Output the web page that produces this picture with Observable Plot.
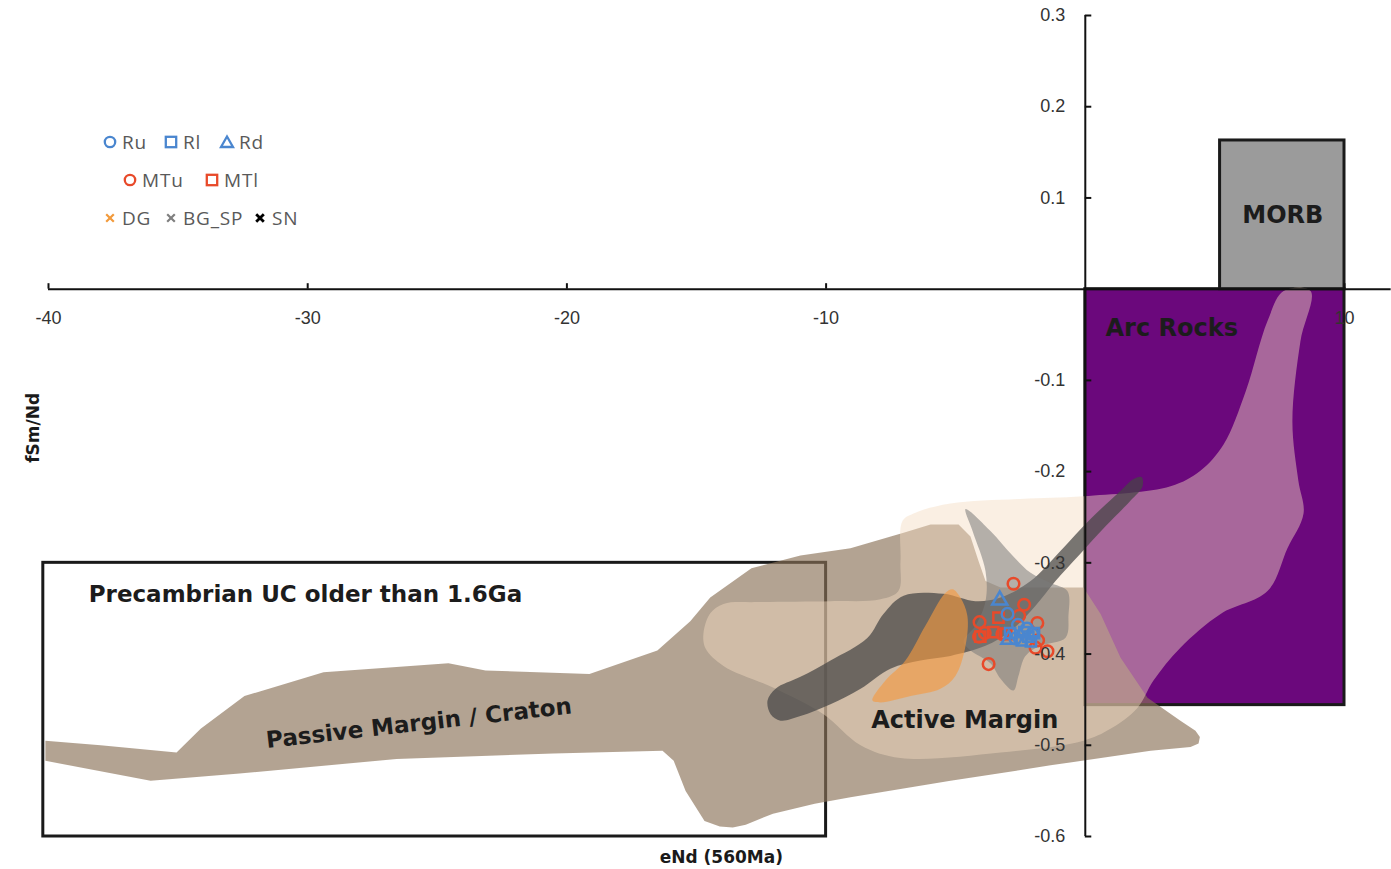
<!DOCTYPE html>
<html>
<head>
<meta charset="utf-8">
<script src="https://cdn.jsdelivr.net/npm/d3@7"></script>
<script src="https://cdn.jsdelivr.net/npm/@observablehq/plot@0.6"></script>
<style>
  html, body { margin: 0; padding: 0; background: #fff; }
  #chart { position: relative; width: 1391px; height: 869px; }
  #legend { position: absolute; left: 0; top: 0; }
</style>
</head>
<body>
<div id="chart"></div>
<script>
// ---- Samples: eNd (560 Ma) and fSm/Nd ----
const Ru  = [[-3.00, -0.356], [-2.60, -0.368], [-2.25, -0.372], [-2.05, -0.378], [-2.70, -0.383]];
const Rl  = [[-2.20, -0.381], [-2.45, -0.385], [-1.98, -0.377], [-2.90, -0.377], [-2.10, -0.386], [-2.35, -0.376]];
const Rd  = [[-3.30, -0.341], [-2.95, -0.384]];
const MTu = [[-2.77, -0.323], [-2.36, -0.346], [-4.08, -0.365], [-4.10, -0.381], [-3.73, -0.411], [-1.85, -0.366],
             [-1.82, -0.385], [-1.92, -0.393], [-1.46, -0.397], [-2.55, -0.358], [-3.88, -0.377], [-3.20, -0.378]];
const MTl = [[-4.05, -0.381], [-3.55, -0.376], [-3.35, -0.360], [-3.05, -0.378]];

// ---- Reference fields ----
// boxes as [x1, x2, y1, y2]
const morbBox        = [5.2, 10, 0, 0.163];
const arcRocksBox    = [0, 10, -0.456, 0];
const precambrianBox = [-40.2, -10, -0.6, -0.3];

const passiveMarginCraton = [
  [-40.12, -0.495], [-37.99, -0.500], [-35.06, -0.508], [-34.13, -0.482], [-32.44, -0.446], [-29.39, -0.420],
  [-24.57, -0.410], [-23.14, -0.418], [-19.13, -0.422], [-16.51, -0.396], [-15.24, -0.364], [-14.47, -0.338],
  [-12.88, -0.306], [-10.99, -0.292], [-9.06, -0.284], [-7.01, -0.267], [-5.97, -0.258], [-4.89, -0.258],
  [-4.43, -0.271], [-4.12, -0.298], [-3.85, -0.320], [-3.27, -0.327], [-0.07, -0.327], [0.59, -0.356],
  [1.36, -0.404], [2.40, -0.448], [3.67, -0.473], [4.25, -0.484], [4.42, -0.491], [4.37, -0.498],
  [4.06, -0.502], [2.52, -0.506], [-1.34, -0.522], [-5.20, -0.539], [-9.06, -0.557], [-10.44, -0.564],
  [-12.05, -0.575], [-13.10, -0.587], [-13.60, -0.590], [-14.10, -0.589], [-14.69, -0.583], [-15.42, -0.550],
  [-15.88, -0.517], [-16.31, -0.506], [-20.52, -0.509], [-26.57, -0.515], [-32.63, -0.531], [-36.06, -0.539],
  [-40.12, -0.517]
];

const activeMargin = [
  [-14.73, -0.377], [-14.46, -0.355], [-13.96, -0.345], [-12.65, -0.343], [-9.83, -0.342], [-7.90, -0.340],
  [-7.21, -0.331], [-7.13, -0.298], [-7.05, -0.254], [-6.55, -0.245], [-5.20, -0.235], [-2.50, -0.230],
  [-0.07, -0.227], [3.29, -0.216], [4.44, -0.199], [5.34, -0.170], [6.19, -0.112], [7.03, -0.035],
  [7.65, -0.002], [8.69, -0.002], [8.30, -0.057], [7.99, -0.145], [8.22, -0.210], [8.42, -0.246],
  [7.80, -0.284], [7.03, -0.331], [5.22, -0.356], [3.67, -0.393], [2.63, -0.429], [2.01, -0.459],
  [0.97, -0.482], [-0.07, -0.495], [-3.27, -0.508], [-7.13, -0.514], [-8.67, -0.500], [-10.10, -0.466],
  [-12.03, -0.437], [-13.96, -0.413], [-14.65, -0.394]
];

const snField = [
  [-12.14, -0.466], [-12.26, -0.451], [-11.95, -0.438], [-10.99, -0.425], [-9.83, -0.407], [-8.40, -0.382],
  [-7.79, -0.356], [-7.01, -0.336], [-5.47, -0.334], [-4.24, -0.342], [-3.27, -0.338], [-2.11, -0.320],
  [-0.96, -0.287], [0.20, -0.252], [1.36, -0.221], [1.86, -0.208], [2.17, -0.206], [2.21, -0.216],
  [1.74, -0.232], [0.78, -0.260], [-0.19, -0.290], [-1.15, -0.320], [-1.92, -0.347], [-2.89, -0.375],
  [-3.85, -0.391], [-5.20, -0.402], [-6.36, -0.407], [-7.52, -0.416], [-8.67, -0.438], [-9.83, -0.455],
  [-10.99, -0.468], [-11.76, -0.473]
];

const bgspField = [
  [-4.62, -0.241], [-3.66, -0.265], [-2.81, -0.292], [-2.11, -0.311], [-1.34, -0.322], [-0.69, -0.331],
  [-0.65, -0.358], [-0.76, -0.382], [-1.73, -0.391], [-2.31, -0.402], [-2.58, -0.424], [-2.77, -0.440],
  [-3.27, -0.427], [-3.66, -0.410], [-4.43, -0.396], [-4.70, -0.386], [-4.24, -0.369], [-3.85, -0.342],
  [-3.85, -0.309], [-4.35, -0.265]
];

const dgField = [
  [-8.21, -0.451], [-7.71, -0.429], [-6.94, -0.407], [-6.17, -0.369], [-5.40, -0.333], [-5.12, -0.329],
  [-4.82, -0.338], [-4.55, -0.358], [-4.62, -0.391], [-5.01, -0.424], [-5.59, -0.438], [-6.74, -0.446],
  [-7.90, -0.453]
];

// ---- Axis ticks ----
const xTicks = [-40, -30, -20, -10, 10];
const yTicks = [0.3, 0.2, 0.1, -0.1, -0.2, -0.3, -0.4, -0.5, -0.6];

// ---- Field labels ----
const fieldLabels = ["MORB", "Arc Rocks", "Precambrian UC older than 1.6Ga", "Passive Margin / Craton", "Active Margin"];

// ---------------------------------------------------------------------------
const BLUE = "#4a86cf", RED = "#e84a2a", ORANGE = "#f29a3c", GREY = "#7f7f7f";
const BOLD = "DejaVu Sans";
const REG = "Liberation Sans";

const bx = b => ({x1: b[0], x2: b[1], y1: b[2], y2: b[3]});
const field = (pts, fill, opacity, curve = "catmull-rom-closed") =>
  Plot.line(pts, {x: d => d[0], y: d => d[1], curve, fill, fillOpacity: opacity, stroke: "none"});
const samples = (pts, symbol, stroke, r) =>
  Plot.dot(pts, {x: d => d[0], y: d => d[1], symbol, stroke, r, strokeWidth: 2.5, fill: "none"});

// label placement (data units) keyed by label text
const labelPlace = {
  "MORB": {x: 7.62, y: 0.081, anchor: "middle", size: 24, rotate: 0},
  "Arc Rocks": {x: 0.78, y: -0.043, anchor: "start", size: 24, rotate: 0},
  "Precambrian UC older than 1.6Ga": {x: -38.45, y: -0.335, anchor: "start", size: 23, rotate: 0},
  "Passive Margin / Craton": {x: -25.71, y: -0.476, anchor: "middle", size: 23, rotate: -6.5},
  "Active Margin": {x: -4.65, y: -0.473, anchor: "middle", size: 24, rotate: 0}
};

const chart = Plot.plot({
  width: 1391,
  height: 869,
  marginLeft: 48,
  marginRight: 47,
  marginTop: 15,
  marginBottom: 33,
  x: {domain: [-40, 10], axis: null},
  y: {domain: [-0.6, 0.3], axis: null},
  style: {background: "#fff", overflow: "visible", fontFamily: REG},
  marks: [
    // frames of the reference fields
    Plot.rect([precambrianBox], {...bx(precambrianBox), fill: "none", stroke: "#1a1a1a", strokeWidth: 3}),
    Plot.rect([arcRocksBox], {...bx(arcRocksBox), fill: "#6b087c", stroke: "#1a1a1a", strokeWidth: 3}),
    Plot.rect([morbBox], {...bx(morbBox), fill: "#9b9b9b", stroke: "#1a1a1a", strokeWidth: 3}),

    // compositional envelopes
    field(passiveMarginCraton, "#8a7157", 0.65, "linear-closed"),
    field(activeMargin, "#f4dcc2", 0.45),
    field(snField, "#454545", 0.72),
    field(bgspField, "#7a7a7a", 0.55),
    field(dgField, "#f6993f", 0.62),

    // samples
    samples(MTu, "circle", RED, 5.8),
    samples(MTl, "square", RED, 5.8),
    samples(Ru, "circle", BLUE, 5.8),
    samples(Rl, "square", BLUE, 5.8),
    samples(Rd, "triangle", BLUE, 5.6),

    // axes crossing at the origin
    Plot.ruleY([0], {x1: -40, x2: 11.8, stroke: "#111", strokeWidth: 2}),
    Plot.ruleX([0], {y1: -0.6, y2: 0.3, stroke: "#111", strokeWidth: 2}),
    Plot.ruleX(xTicks, {x: d => d, y1: 0, y2: 0.006, stroke: "#111", strokeWidth: 2}),
    Plot.ruleY(yTicks, {y: d => d, x1: 0, x2: 0.25, stroke: "#111", strokeWidth: 2}),
    Plot.text(xTicks, {x: d => d, y: 0, dy: 29, text: d => String(d), fontSize: 18,
                       fontFamily: REG, fill: "#333"}),
    Plot.text(yTicks, {x: 0, y: d => d, dx: -20, text: d => d.toFixed(1), textAnchor: "end",
                       fontSize: 18, fontFamily: REG, fill: "#333"}),

    // axis titles
    Plot.text(["eNd (560Ma)"], {x: -14.04, y: -0.6, dy: 21, text: d => d, fontSize: 17,
                                fontWeight: "bold", fontFamily: BOLD, fill: "#1a1a1a"}),
    Plot.text(["fSm/Nd"], {x: -40, y: -0.152, dx: -15, text: d => d, rotate: -90, fontSize: 17,
                           fontWeight: "bold", fontFamily: BOLD, fill: "#1a1a1a"}),

    // field names
    ...fieldLabels.map(t => {
      const p = labelPlace[t];
      return Plot.text([t], {x: p.x, y: p.y, text: d => d, textAnchor: p.anchor, rotate: p.rotate,
                             fontSize: p.size, fontWeight: "bold", fontFamily: BOLD, fill: "#1c1c1c"});
    })
  ]
});

const host = document.getElementById("chart");
host.appendChild(chart);

// ---- Legend ----
const legendItems = [
  {label: "Ru", sym: "circle", color: BLUE, cx: 110, cy: 142},
  {label: "Rl", sym: "square", color: BLUE, cx: 171, cy: 142},
  {label: "Rd", sym: "triangle", color: BLUE, cx: 227, cy: 142},
  {label: "MTu", sym: "circle", color: RED, cx: 130, cy: 180},
  {label: "MTl", sym: "square", color: RED, cx: 212, cy: 180},
  {label: "DG", sym: "cross", color: ORANGE, cx: 110, cy: 218},
  {label: "BG_SP", sym: "cross", color: GREY, cx: 171, cy: 218},
  {label: "SN", sym: "cross", color: "#000", cx: 260, cy: 218}
];

const leg = d3.select(host).append("svg")
  .attr("id", "legend").attr("width", 340).attr("height", 250);

for (const it of legendItems) {
  const g = leg.append("g").attr("transform", `translate(${it.cx},${it.cy})`);
  if (it.sym === "circle") {
    g.append("circle").attr("r", 5.2).attr("fill", "none").attr("stroke", it.color).attr("stroke-width", 2.3);
  } else if (it.sym === "square") {
    g.append("rect").attr("x", -5.2).attr("y", -5.2).attr("width", 10.4).attr("height", 10.4)
      .attr("fill", "none").attr("stroke", it.color).attr("stroke-width", 2.3);
  } else if (it.sym === "triangle") {
    g.append("path").attr("d", "M0,-5.5L6,5L-6,5Z")
      .attr("fill", "none").attr("stroke", it.color).attr("stroke-width", 2.3);
  } else {
    g.append("path").attr("d", "M-3.8,-3.8L3.8,3.8M-3.8,3.8L3.8,-3.8")
      .attr("stroke", it.color).attr("stroke-width", it.label === "SN" ? 2.8 : 2.2);
  }
  leg.append("text")
    .attr("x", it.cx + 12).attr("y", it.cy + 6.5)
    .attr("font-family", "Open Sans, Noto Sans, sans-serif")
    .attr("font-size", 19).attr("letter-spacing", 0.8)
    .attr("fill", "#595959")
    .text(it.label);
}
</script>
</body>
</html>
